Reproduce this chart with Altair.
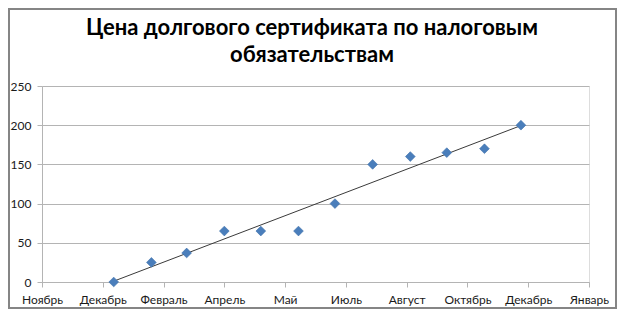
import altair as alt
import pandas as pd

# ---- data ----
dates = ["2012-01-01", "2012-02-01", "2012-03-01", "2012-04-01", "2012-05-01", "2012-06-01",
         "2012-07-01", "2012-08-01", "2012-09-01", "2012-10-01", "2012-11-01", "2012-12-01"]
prices = [0, 25, 37, 65, 65, 65, 100, 150, 160, 165, 170, 200]
tick_labels = ["Ноябрь", "Декабрь", "Февраль", "Апрель", "Май", "Июль",
               "Август", "Октябрь", "Декабрь", "Январь"]
x_tick_start = 40850   # Excel serial date of first axis tick
x_tick_step = 50       # days between axis ticks
y_ticks = [0, 50, 100, 150, 200, 250]
title_lines = ["Цена долгового сертификата по налоговым", "обязательствам"]

# Excel-like serial day numbers for the x axis
serial = [(pd.Timestamp(d) - pd.Timestamp("1899-12-30")).days for d in dates]
df = pd.DataFrame({"x": serial, "y": prices})

x_ticks = [x_tick_start + i * x_tick_step for i in range(len(tick_labels))]
label_array = "[" + ",".join("'" + t + "'" for t in tick_labels) + "]"
label_expr = f"{label_array}[round((datum.value - {x_tick_start}) / {x_tick_step})]"

W, H = 547, 196
FONT = "Lato"
GRID = "#b4b4b4"

x_enc = alt.X(
    "x:Q",
    scale=alt.Scale(domain=[x_ticks[0], x_ticks[-1]], nice=False, zero=False),
    axis=alt.Axis(values=x_ticks, labelExpr=label_expr, title=None, grid=False,
                  domainColor=GRID, tickColor=GRID, tickSize=5, labelPadding=7,
                  labelFont=FONT, labelFontSize=12, labelColor="#1a1a1a",
                  labelFlush=False, labelOverlap=False),
)
y_enc = alt.Y(
    "y:Q",
    scale=alt.Scale(domain=[y_ticks[0], y_ticks[-1]], nice=False, zero=True),
    axis=alt.Axis(values=y_ticks, title=None, grid=True, gridColor=GRID,
                  domainColor=GRID, tickColor=GRID, tickSize=5, labelPadding=6,
                  labelFont=FONT, labelFontSize=12, labelColor="#1a1a1a",
                  labelOverlap=False),
)

points = alt.Chart(df).mark_point(
    shape="diamond", filled=True, size=95, color="#4a7ebb", opacity=1,
    stroke="#3d6fa9", strokeWidth=0.6,
).encode(x=x_enc, y=y_enc)

trend = alt.Chart(df).transform_regression("x", "y").mark_line(
    color="#3a3a3a", strokeWidth=1
).encode(x=x_enc, y=y_enc)

title = alt.Chart(alt.Data(values=[{"a": 1}])).mark_text(
    text=title_lines, font=FONT, fontSize=22, fontWeight="bold", color="#000000",
    align="center", baseline="alphabetic", lineHeight=27,
).encode(x=alt.value(270), y=alt.value(-51))

border = alt.Chart(alt.Data(values=[{"a": 1}])).mark_rect(
    fill=None, stroke="#858585", strokeWidth=2
).encode(x=alt.value(-33), x2=alt.value(574), y=alt.value(-77), y2=alt.value(222))

chart = alt.layer(border, title, trend, points).properties(
    width=W, height=H,
    autosize=alt.AutoSizeParams(type="none"),
    padding={"left": 34, "top": 78, "right": 28, "bottom": 27},
).configure_view(stroke=None).configure(background="white")

chart.save("out.html", embed_options={"renderer": "svg", "actions": False})
